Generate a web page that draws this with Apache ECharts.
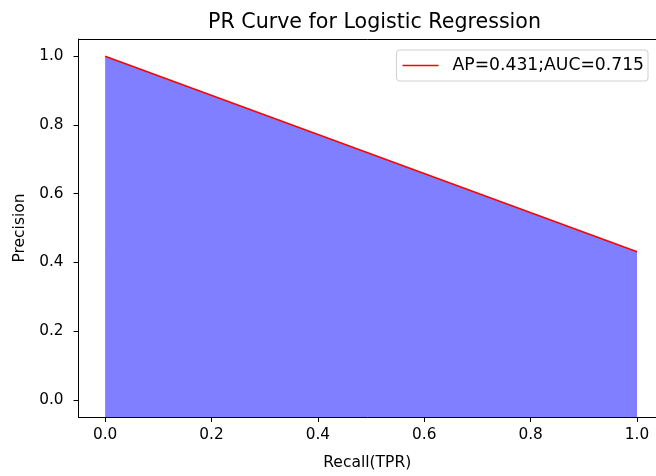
<!DOCTYPE html>
<html>
<head>
<meta charset="utf-8">
<script src="https://cdn.jsdelivr.net/npm/echarts@6/dist/echarts.min.js"></script>
<style>
  html, body { margin: 0; padding: 0; background: #fff; }
  #chart { width: 656px; height: 476px; }
</style>
</head>
<body>
<div id="chart"></div>
<script>
// Precision-recall curve points
const recall = [0.0, 1.0];
const precision = [1.0, 0.431];
const seriesLabel = 'AP=0.431;AUC=0.715';
const tickValues = [0.0, 0.2, 0.4, 0.6, 0.8, 1.0];

// Axis limits: 5% padding below/left; the x range runs past the right edge of the canvas
const xMin = -0.05, xMax = 1.0357;
const yMin = -0.05, yMax = 1.05;

const FONT = 'DejaVu Sans';
const chart = echarts.init(document.getElementById('chart'), null, { renderer: 'canvas' });

const points = recall.map((r, i) => [r, precision[i]]);
const fmt = v => v.toFixed(1);

chart.setOption({
  animation: false,
  backgroundColor: '#fff',
  textStyle: { fontFamily: FONT },
  title: {
    text: 'PR Curve for Logistic Regression',
    left: 203,
    top: 7,
    textStyle: { fontFamily: FONT, fontSize: 20.6, fontWeight: 'normal', color: '#000' }
  },
  legend: {
    right: 8,
    top: 50,
    icon: 'rect',
    itemWidth: 36,
    itemHeight: 1.5,
    padding: [7, 4, 7, 6],
    borderColor: '#d0d0d0',
    borderWidth: 1,
    borderRadius: 3,
    backgroundColor: 'rgba(255,255,255,0.8)',
    textStyle: { fontFamily: FONT, fontSize: 17.2, color: '#000', padding: [0, 0, 0, 9] },
    data: [seriesLabel]
  },
  grid: {
    left: 78.5,
    top: 39,
    right: 0,
    bottom: 56,
    show: false,
    containLabel: false
  },
  xAxis: [{
    type: 'value',
    min: xMin,
    max: xMax,
    name: 'Recall(TPR)',
    nameLocation: 'middle',
    nameGap: 38,
    nameTextStyle: { fontFamily: FONT, fontSize: 15.5, color: '#000' },
    axisLine: { show: true, onZero: false, lineStyle: { color: '#000', width: 1 } },
    axisTick: { show: true, length: 5, customValues: tickValues, lineStyle: { color: '#000' } },
    axisLabel: {
      customValues: tickValues,
      margin: 11,
      fontFamily: FONT, fontSize: 15.3, color: '#000',
      formatter: fmt
    },
    splitLine: { show: false }
  }, {
    // top spine
    type: 'value',
    position: 'top',
    min: xMin,
    max: xMax,
    axisLine: { show: true, onZero: false, lineStyle: { color: '#000', width: 1 } },
    axisTick: { show: false },
    axisLabel: { show: false },
    splitLine: { show: false }
  }],
  yAxis: {
    type: 'value',
    min: yMin,
    max: yMax,
    name: 'Precision',
    nameLocation: 'middle',
    nameGap: 49,
    nameTextStyle: { fontFamily: FONT, fontSize: 15.5, color: '#000' },
    axisLine: { show: true, onZero: false, lineStyle: { color: '#000', width: 1 } },
    axisTick: { show: true, length: 5, customValues: tickValues, lineStyle: { color: '#000' } },
    axisLabel: {
      customValues: tickValues,
      margin: 15,
      fontFamily: FONT, fontSize: 15.3, color: '#000',
      formatter: fmt
    },
    splitLine: { show: false }
  },
  series: [{
    name: seriesLabel,
    type: 'line',
    xAxisIndex: 0,
    data: points,
    symbol: 'none',
    lineStyle: { color: '#ff0000', width: 1.5 },
    itemStyle: { color: '#ff0000' },
    areaStyle: { origin: 'start', color: 'rgba(0,0,255,0.5)', opacity: 1 },
    z: 3
  }]
});
</script>
</body>
</html>
